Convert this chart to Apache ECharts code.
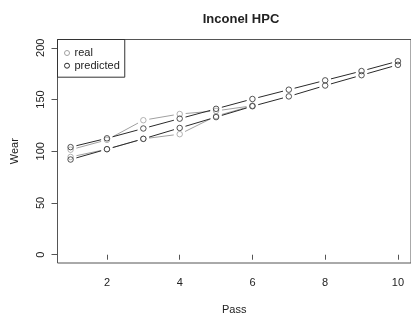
<!DOCTYPE html>
<html><head><meta charset="utf-8">
<script src="https://cdn.jsdelivr.net/npm/echarts@6/dist/echarts.min.js"></script>
<style>html,body{margin:0;padding:0;background:#fff}#c{width:411px;height:320px}</style>
</head><body><div id="c"></div>
<script>
const passes = [1,2,3,4,5,6,7,8,9,10];
const realA = [101.5, 111, 130, 136, 139, 144];
const realB = [94.5, 102, 112, 116.5, 134, 144];
const predA = [104, 112.5, 122, 131.5, 141, 150.5, 159.5, 168.5, 177.5, 187];
const predB = [92, 102, 112, 122.5, 133, 143.5, 153, 163.5, 173.5, 183.5];
const xTicks = [2,4,6,8,10];
const yTicks = [0,50,100,150,200];

const font = 'Liberation Sans, Arial, sans-serif';
const grey = '#a0a0a0', dark = '#2a2a2a';
const GAP = 6;
function pairs(vals){ return vals.map((v,i)=>[passes[i], v]); }
function segs(vals){
  const out=[];
  for(let i=0;i<vals.length-1;i++) out.push([passes[i], vals[i], passes[i+1], vals[i+1]]);
  return out;
}
function points(name, vals, col, z){
  return {name, type:'scatter', data:pairs(vals), symbol:'circle', symbolSize:5.5, z,
    itemStyle:{color:'rgba(0,0,0,0)', borderColor:col, borderWidth:1},
    emphasis:{disabled:true}, animation:false, silent:true};
}
function lines(name, vals, col, z){
  return {name, type:'custom', data:segs(vals), z, silent:true, animation:false,
    encode:{x:[0,2], y:[1,3]},
    renderItem:function(params, api){
      const p1 = api.coord([api.value(0), api.value(1)]);
      const p2 = api.coord([api.value(2), api.value(3)]);
      const dx=p2[0]-p1[0], dy=p2[1]-p1[1];
      const L=Math.sqrt(dx*dx+dy*dy);
      if(L<=2*GAP) return null;
      const ux=dx/L, uy=dy/L;
      return {type:'line', shape:{x1:p1[0]+ux*GAP, y1:p1[1]+uy*GAP, x2:p2[0]-ux*GAP, y2:p2[1]-uy*GAP},
        style:{stroke:col, lineWidth:1, fill:null}};
    }};
}
const chart = echarts.init(document.getElementById('c'), null, {renderer:'canvas'});
chart.setOption({
  animation:false,
  title:{text:'Inconel HPC', left:236, top:8, textAlign:'center',
    textStyle:{fontFamily:font, fontSize:13, fontWeight:'bold', color:'#222'}},
  legend:{orient:'vertical', left:57.5, top:39.5, padding:[8,5,6,6.5], itemGap:1.7,
    borderColor:'#333', borderWidth:1, itemWidth:5, itemHeight:5, icon:'circle',
    textStyle:{fontFamily:font, fontSize:11, color:'#222', padding:[0,0,0,0]},
    data:[{name:'real', itemStyle:{color:'rgba(0,0,0,0)', borderColor:grey, borderWidth:1}},
          {name:'predicted', itemStyle:{color:'rgba(0,0,0,0)', borderColor:dark, borderWidth:1}}]},
  grid:{left:57.5, top:39.5, width:357.5, height:223.5, show:true, borderColor:'#555', borderWidth:1, backgroundColor:'transparent'},
  xAxis:{type:'value', min:0.64, max:10.36,
    axisLine:{show:false}, splitLine:{show:false},
    axisTick:{show:true, length:5, customValues:xTicks, lineStyle:{color:'#555'}},
    axisLabel:{customValues:xTicks, margin:14, fontFamily:font, fontSize:11, color:'#222'},
    name:'Pass', nameLocation:'middle', nameGap:41,
    nameTextStyle:{fontFamily:font, fontSize:11, color:'#222'}},
  yAxis:{type:'value', min:-8, max:208,
    axisLine:{show:false}, splitLine:{show:false},
    axisTick:{show:true, length:6, customValues:yTicks, lineStyle:{color:'#555'}},
    axisLabel:{customValues:yTicks, rotate:90, margin:11, fontFamily:font, fontSize:11, color:'#222'},
    name:'Wear', nameLocation:'middle', nameGap:37,
    nameTextStyle:{fontFamily:font, fontSize:11, color:'#222'}},
  series:[
    lines('real', realA, grey, 2),
    lines('real', realB, grey, 2),
    lines('predicted', predA, dark, 3),
    lines('predicted', predB, dark, 3),
    points('real', realA, grey, 4),
    points('real', realB, grey, 4),
    points('predicted', predA, dark, 5),
    points('predicted', predB, dark, 5)
  ]
});
</script></body></html>
